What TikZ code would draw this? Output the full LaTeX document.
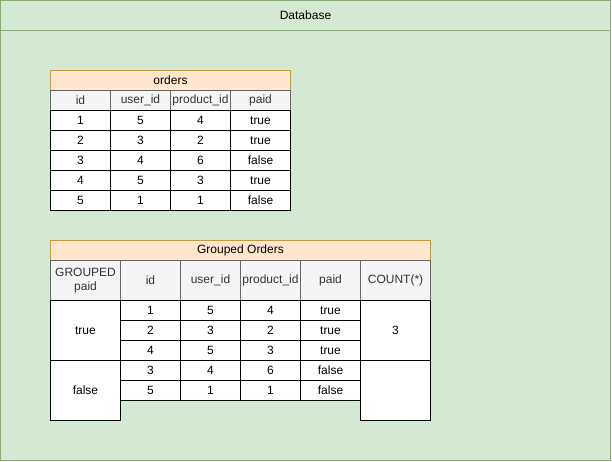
\documentclass[tikz,border=0pt]{standalone}
\usepackage{fontspec}
\setmainfont{Liberation Sans}
\usetikzlibrary{positioning}

\definecolor{dbfill}{HTML}{D5E8D4}
\definecolor{dbline}{HTML}{82B366}
\definecolor{titlefill}{HTML}{FFE6CC}
\definecolor{titleline}{HTML}{D79B00}
\definecolor{headfill}{HTML}{F5F5F5}
\definecolor{headline}{HTML}{666666}
\definecolor{headtext}{HTML}{333333}

\begin{document}
\begin{tikzpicture}[x=1pt, y=-1pt, line width=1pt,
        font=\fontsize{12}{14}\selectfont,
        cell/.style={draw=black, fill=white, anchor=north west, inner sep=0pt,
            outer sep=0pt, minimum width=60pt, minimum height=20pt},
        headcell/.style={cell, draw=headline, fill=headfill, text=headtext, align=center},
        titlecell/.style={cell, draw=titleline, fill=titlefill}]
                \useasboundingbox (0,0) rectangle (612,462);

                % Database frame:
                \draw[draw=dbline, fill=dbfill] (0.5,0.5) rectangle (610.5,460.5);
                \draw[draw=dbline] (0.5,30.5) -- (610.5,30.5);
                \node (db) at (305.5,15) {Database};

                % Table 'orders':
                \node[titlecell, minimum width=240pt] (ot) at (50.5,70.5) {orders};
                \foreach \t [count=\c] in {id, user\_id, product\_id, paid}
                    \node[headcell] (oh\c) at (50.5+60*\c-60,90.5) {\t};
                \foreach \a/\b/\e/\d [count=\r] in {1/5/4/true, 2/3/2/true, 3/4/6/false, 4/5/3/true, 5/1/1/false} {
                    \node[cell] (o\r-1) at (50.5,90.5+20*\r) {\a};
                    \node[cell] (o\r-2) at (110.5,90.5+20*\r) {\b};
                    \node[cell] (o\r-3) at (170.5,90.5+20*\r) {\e};
                    \node[cell] (o\r-4) at (230.5,90.5+20*\r) {\d};
                }

                % Table 'Grouped Orders':
                \node[titlecell, minimum width=380pt] (gt) at (50.5,240.5) {Grouped Orders};
                \node[headcell, minimum width=70pt, minimum height=40pt] (gh0) at (50.5,260.5) {GROUPED\\paid};
                \foreach \t [count=\c] in {id, user\_id, product\_id, paid}
                    \node[headcell, minimum height=40pt] (gh\c) at (60.5+60*\c,260.5) {\t};
                \node[headcell, minimum width=70pt, minimum height=40pt] (gh5) at (360.5,260.5) {COUNT(*)};
                \foreach \a/\b/\e/\d [count=\r] in {1/5/4/true, 2/3/2/true, 4/5/3/true, 3/4/6/false, 5/1/1/false} {
                    \node[cell] (g\r-1) at (120.5,280.5+20*\r) {\a};
                    \node[cell] (g\r-2) at (180.5,280.5+20*\r) {\b};
                    \node[cell] (g\r-3) at (240.5,280.5+20*\r) {\e};
                    \node[cell] (g\r-4) at (300.5,280.5+20*\r) {\d};
                }

                % Group and count cells:
                \node[cell, minimum width=70pt, minimum height=60pt] (gtrue) at (50.5,300.5) {true};
                \node[cell, minimum width=70pt, minimum height=60pt] (gfalse) at (50.5,360.5) {false};
                \node[cell, minimum width=70pt, minimum height=60pt] (ctrue) at (360.5,300.5) {3};
                \node[cell, minimum width=70pt, minimum height=60pt] (cfalse) at (360.5,360.5) {};
            \end{tikzpicture}
\end{document}
